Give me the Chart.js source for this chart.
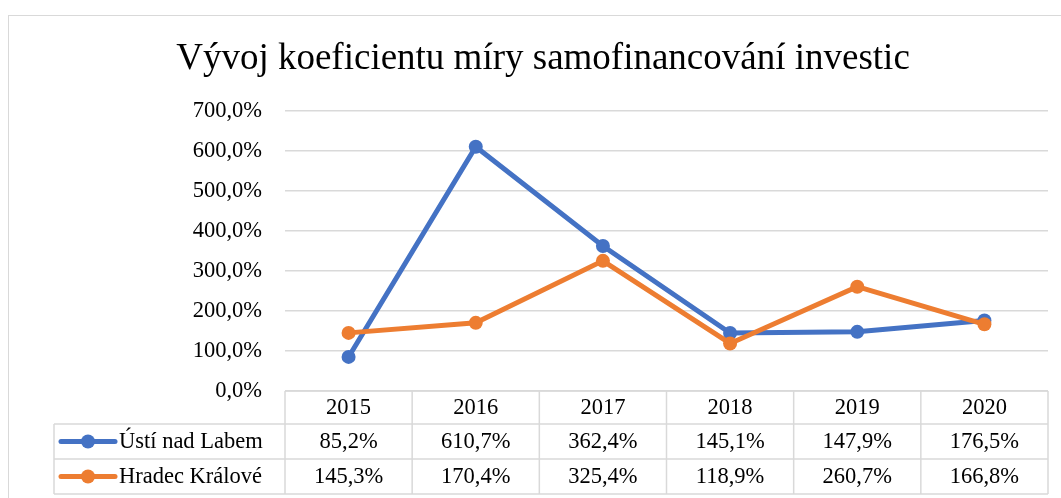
<!DOCTYPE html>
<html>
<head>
<meta charset="utf-8">
<script src="https://cdn.jsdelivr.net/npm/chart.js@4"></script>
<style>
  html, body { margin: 0; padding: 0; background: #fff; }
  #wrap { width: 1061px; height: 498px; }
</style>
</head>
<body>
<div id="wrap"><canvas id="chart"></canvas></div>
<script>
const chartTitle = "Vývoj koeficientu míry samofinancování investic";
const years = ["2015", "2016", "2017", "2018", "2019", "2020"];
const seriesNames = ["Ústí nad Labem", "Hradec Králové"];
const ustiValues = [85.2, 610.7, 362.4, 145.1, 147.9, 176.5];
const hradecValues = [145.3, 170.4, 325.4, 118.9, 260.7, 166.8];
const seriesColors = ["#4472C4", "#ED7D31"];
const yTicks = [0, 100, 200, 300, 400, 500, 600, 700];

const serif = "'Liberation Serif', 'Times New Roman', serif";

function pct(v) {
  return v.toFixed(1).replace(".", ",") + "%";
}

// frame + title + data table under the plot
const tablePlugin = {
  id: "dataTable",
  beforeDraw(chart) {
    const ctx = chart.ctx;
    ctx.save();
    ctx.strokeStyle = "#d9d9d9";
    ctx.lineWidth = 1;
    ctx.strokeRect(8.5, 15.5, 1200, 600);
    ctx.fillStyle = "#000";
    ctx.font = "37px " + serif;
    ctx.textAlign = "center";
    ctx.textBaseline = "alphabetic";
    ctx.fillText(chartTitle, 543, 69);
    ctx.restore();
  },
  afterDraw(chart) {
    const ctx = chart.ctx;
    const x = chart.scales.x;
    const area = chart.chartArea;
    const colW = (x.right - x.left) / years.length;
    const rows = [area.bottom, area.bottom + 33, area.bottom + 68, area.bottom + 103];
    const legendLeft = 54;
    const data = [ustiValues, hradecValues];

    ctx.save();
    ctx.strokeStyle = "#d9d9d9";
    ctx.lineWidth = 1.5;
    ctx.beginPath();
    // horizontal lines
    ctx.moveTo(x.left, rows[0]); ctx.lineTo(x.right, rows[0]);
    for (let r = 1; r < rows.length; r++) {
      ctx.moveTo(legendLeft, rows[r]); ctx.lineTo(x.right, rows[r]);
    }
    // vertical lines
    for (let i = 0; i <= years.length; i++) {
      const px = x.left + i * colW;
      ctx.moveTo(px, rows[0]); ctx.lineTo(px, rows[3]);
    }
    ctx.moveTo(legendLeft, rows[1]); ctx.lineTo(legendLeft, rows[3]);
    ctx.stroke();

    ctx.fillStyle = "#000";
    ctx.font = "22.5px " + serif;
    ctx.textAlign = "center";
    ctx.textBaseline = "middle";
    years.forEach((y, i) => {
      const cx = x.getPixelForValue(i);
      ctx.fillText(y, cx, (rows[0] + rows[1]) / 2 + 1);
      data.forEach((vals, s) => {
        ctx.fillText(pct(vals[i]), cx, (rows[s + 1] + rows[s + 2]) / 2 + 1);
      });
    });

    // legend keys
    seriesNames.forEach((name, s) => {
      const cy = (rows[s + 1] + rows[s + 2]) / 2;
      ctx.strokeStyle = seriesColors[s];
      ctx.lineWidth = 5;
      ctx.lineCap = "round";
      ctx.beginPath();
      ctx.moveTo(61, cy); ctx.lineTo(115, cy);
      ctx.stroke();
      ctx.fillStyle = seriesColors[s];
      ctx.beginPath();
      ctx.arc(88, cy, 7, 0, Math.PI * 2);
      ctx.fill();
      ctx.fillStyle = "#000";
      ctx.textAlign = "left";
      ctx.fillText(name, 119, cy + 1);
    });
    ctx.restore();
  },
};

new Chart(document.getElementById("chart"), {
  type: "line",
  data: {
    labels: years,
    datasets: [
      {
        label: seriesNames[0],
        data: ustiValues,
        borderColor: seriesColors[0],
        backgroundColor: seriesColors[0],
        pointBackgroundColor: seriesColors[0],
        pointBorderColor: seriesColors[0],
        borderWidth: 5,
        pointRadius: 7,
        pointBorderWidth: 0,
        tension: 0,
        order: 1,
      },
      {
        label: seriesNames[1],
        data: hradecValues,
        borderColor: seriesColors[1],
        backgroundColor: seriesColors[1],
        pointBackgroundColor: seriesColors[1],
        pointBorderColor: seriesColors[1],
        borderWidth: 5,
        pointRadius: 7,
        pointBorderWidth: 0,
        tension: 0,
        order: 0,
      },
    ],
  },
  options: {
    responsive: true,
    maintainAspectRatio: false,
    devicePixelRatio: 1,
    animation: false,
    layout: { padding: { top: 111, left: 0, right: 13, bottom: 107 } },
    plugins: {
      legend: { display: false },
      title: { display: false },
      tooltip: { enabled: false },
    },
    scales: {
      x: {
        display: false,
        offset: true,
      },
      y: {
        min: 0,
        max: 700,
        afterFit(scale) { scale.width = 285; },
        afterBuildTicks(scale) { scale.ticks = yTicks.map((v) => ({ value: v })); },
        border: { display: false },
        grid: { color: "#d9d9d9", lineWidth: 1.5, drawTicks: false },
        ticks: {
          padding: 23,
          color: "#000",
          font: { family: serif, size: 22.5 },
          callback: (v) => pct(v),
        },
      },
    },
  },
  plugins: [tablePlugin],
});
</script>
</body>
</html>
